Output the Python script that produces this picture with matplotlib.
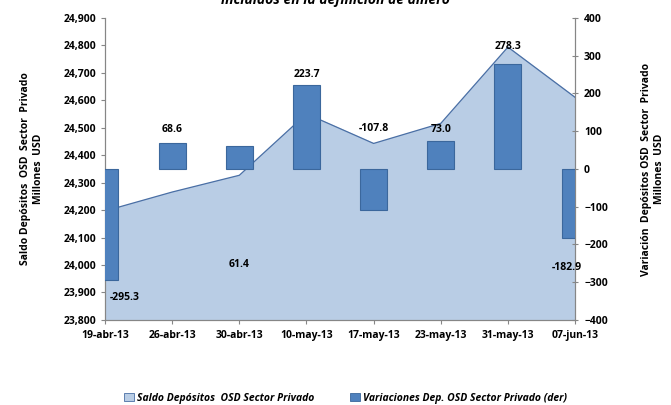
import numpy as np
import matplotlib
matplotlib.use('Agg')
import matplotlib.pyplot as plt
from matplotlib.patches import Patch

# datos (millones USD)
fechas = ['19-abr-13', '26-abr-13', '30-abr-13', '10-may-13',
          '17-may-13', '23-may-13', '31-may-13', '07-jun-13']
saldo = [24197, 24266, 24327, 24551, 24443, 24516, 24794, 24611]
variacion = [-295.3, 68.6, 61.4, 223.7, -107.8, 73.0, 278.3, -182.9]
etiquetas = ['-295.3', '68.6', '61.4', '223.7', '-107.8', '73.0', '278.3', '-182.9']

plt.rcParams['font.family'] = ['Open Sans', 'DejaVu Sans']
plt.rcParams['font.weight'] = 'bold'

fig = plt.figure(figsize=(6.71, 4.05), dpi=100)
ax = fig.add_axes([0.1565, 0.21, 0.7005, 0.7456])
ax2 = ax.twinx()

x = np.arange(len(fechas))
gris = '#868686'

# area (eje izquierdo)
ax.fill_between(x, 23800, saldo, color='#B9CDE5', zorder=1)
ax.plot(x, saldo, color='#4A6FA5', lw=0.9, zorder=2)
ax.set_ylim(23800, 24900)
ax.set_yticks(np.arange(23800, 24901, 100))
ax.set_yticklabels(['{:,}'.format(v) for v in range(23800, 24901, 100)])
ax.set_xlim(0, 7)
ax.set_xticks(x)
ax.set_xticklabels(fechas)

# barras (eje derecho)
ax2.bar(x, variacion, width=0.4, color='#4F81BD', edgecolor='#3B679C', lw=0.8,
        zorder=3, clip_on=True)
ax2.set_ylim(-400, 400)
ax2.set_yticks(np.arange(-400, 401, 100))

# posiciones de las etiquetas (en unidades del eje derecho)
pos_lab = [-340, 104, -252, 250, 106, 104, 324, -262]
dx_lab = [0.3, 0, 0, 0, 0, 0, 0, -0.12]
for i, t in enumerate(etiquetas):
    ax2.text(x[i] + dx_lab[i], pos_lab[i], t, ha='center', va='center',
             fontsize=7.5, fontweight='bold', zorder=5)

for a in (ax, ax2):
    a.spines['top'].set_visible(False)
    for s in ('left', 'right', 'bottom'):
        a.spines[s].set_color(gris)
        a.spines[s].set_linewidth(0.8)
    a.tick_params(labelsize=7.5, colors='black', length=3, width=0.8)
    a.tick_params(axis='both', color=gris)
ax.set_zorder(ax2.get_zorder() - 1)
ax2.patch.set_visible(False)
ax.tick_params(axis='x', direction='out', pad=4)
ax2.tick_params(axis='y', direction='inout', length=5, pad=4)

ax.set_ylabel('Saldo Depósitos  OSD  Sector  Privado\nMillones  USD',
              fontsize=7.5, fontweight='bold', labelpad=14)
ax2.set_ylabel('Variación  Depósitos OSD  Sector  Privado\nMillones  USD',
               fontsize=7.5, fontweight='bold', labelpad=24, rotation=90)

fig.text(0.5, 1.0, 'incluidos en la definición de dinero', ha='center', va='center',
         fontsize=10, fontweight='bold', style='italic')

handles = [Patch(facecolor='#B9CDE5', edgecolor='#4A6FA5', lw=0.6),
           Patch(facecolor='#4F81BD', edgecolor='#3B679C', lw=0.6)]
fig.legend(handles, ['Saldo Depósitos  OSD Sector Privado',
                     'Variaciones Dep. OSD Sector Privado (der)'],
           loc='center', bbox_to_anchor=(0.515, 0.017), ncol=2, frameon=False,
           prop={'size': 7.5, 'weight': 'bold', 'style': 'italic'},
           handlelength=0.9, handleheight=0.9, handletextpad=0.3, columnspacing=3.5)

fig.savefig('out.png', dpi=100)
